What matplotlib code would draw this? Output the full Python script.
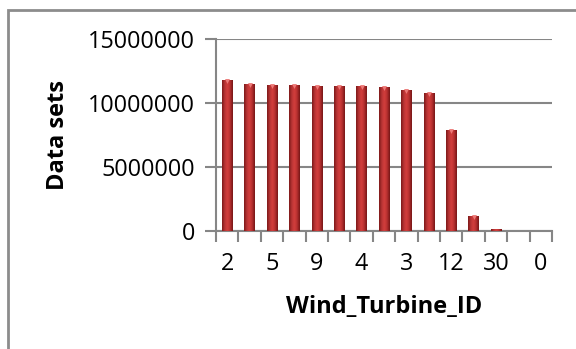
import numpy as np
import matplotlib
matplotlib.use("Agg")
import matplotlib.pyplot as plt
from matplotlib.colors import LinearSegmentedColormap
from matplotlib.patches import Rectangle

# Data sets per turbine (every second ID label is skipped on the axis)
turbine_ids = ["2", "", "5", "", "9", "", "4", "", "3", "", "12", "", "30", "", "0"]
data_sets = [11790000, 11500000, 11420000, 11420000, 11340000, 11340000, 11340000,
             11260000, 11030000, 10790000, 7890000, 1150000, 130000, 20000, 5000]
y_ticks = [0, 5000000, 10000000, 15000000]

plt.rcParams["font.family"] = ["Open Sans", "DejaVu Sans"]

fig = plt.figure(figsize=(5.76, 3.49), dpi=100)
ax = fig.add_axes([216 / 576, 1 - 231 / 349, 336 / 576, 192 / 349])

x = np.arange(len(data_sets))
bars = ax.bar(x, data_sets, width=0.46, color="#a82a2a", zorder=2)

# cylinder-style shading across each bar
shade = LinearSegmentedColormap.from_list(
    "shade", ["#7a1818", "#b83434", "#d43f3d", "#b52f2f", "#741515"])
grad = np.linspace(0, 1, 64).reshape(1, -1)
for b in bars:
    x0, w, h = b.get_x(), b.get_width(), b.get_height()
    if h <= 0:
        continue
    im = ax.imshow(grad, cmap=shade, aspect="auto", extent=(x0, x0 + w, 0, h),
                   zorder=3, interpolation="bicubic")
    im.set_clip_path(b)
    # lighter cap at the top of taller bars
    if h > 500000:
        ax.plot(x0 + w / 2, h - 90000, marker="v", ms=3.5, color="#ec7a78",
                mec="none", zorder=4)

ax.set_xlim(-0.5, len(data_sets) - 0.5)
ax.set_ylim(0, 15000000)
ax.set_yticks(y_ticks)
ax.set_yticklabels([str(v) for v in y_ticks], fontsize=16.8)
ax.set_xticks(x)
ax.set_xticklabels(turbine_ids, fontsize=16.8)
ax.set_xticks(np.arange(len(data_sets) + 1) - 0.5, minor=True)
ax.tick_params(axis="x", which="major", length=0, pad=15)
ax.tick_params(axis="x", which="minor", length=8, width=1.5, color="#868686")
ax.tick_params(axis="y", length=8, width=1.5, color="#868686", pad=7)

ax.grid(axis="y", color="#868686", linewidth=1.5, zorder=1)
ax.set_axisbelow(True)
for side in ["top", "right"]:
    ax.spines[side].set_visible(False)
for side in ["left", "bottom"]:
    ax.spines[side].set_color("#868686")
    ax.spines[side].set_linewidth(1.5)

ax.set_ylabel("Data sets", fontsize=17, fontweight="bold")
ax.set_xlabel("Wind_Turbine_ID", fontsize=17, fontweight="bold")
ax.yaxis.set_label_coords(-146 / 336, 0.5)
ax.xaxis.set_label_coords(0.5, -64 / 192)

# chart area border
fig.patches.append(Rectangle((8 / 576, -0.2), 1.2, 1.2 - 10 / 349,
                             transform=fig.transFigure, fill=False,
                             edgecolor="#8c8c8c", linewidth=2))

fig.savefig("out.png", dpi=100)
